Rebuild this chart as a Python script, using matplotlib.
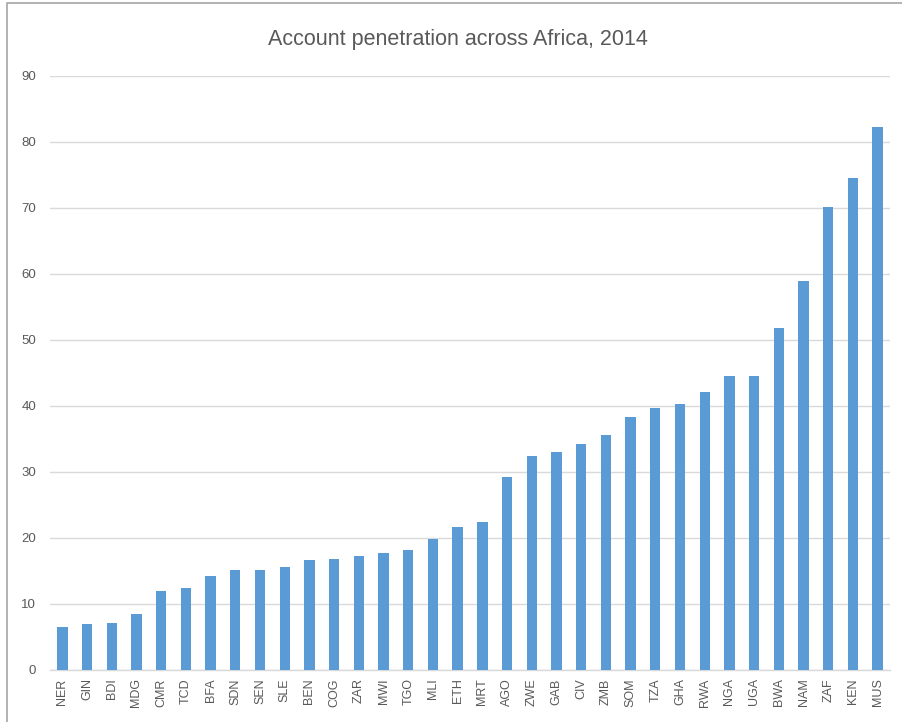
import matplotlib.pyplot as plt
from matplotlib.patches import Rectangle

countries = ["NER", "GIN", "BDI", "MDG", "CMR", "TCD", "BFA", "SDN", "SEN", "SLE",
             "BEN", "COG", "ZAR", "MWI", "TGO", "MLI", "ETH", "MRT", "AGO", "ZWE",
             "GAB", "CIV", "ZMB", "SOM", "TZA", "GHA", "RWA", "NGA", "UGA", "BWA",
             "NAM", "ZAF", "KEN", "MUS"]
account_pct = [6.5, 6.9, 7.1, 8.5, 12.0, 12.4, 14.2, 15.2, 15.2, 15.6,
               16.6, 16.8, 17.2, 17.8, 18.2, 19.9, 21.7, 22.5, 29.2, 32.4,
               33.0, 34.2, 35.6, 38.4, 39.7, 40.3, 42.1, 44.5, 44.5, 51.8,
               58.9, 70.2, 74.5, 82.2]
yticks = list(range(0, 100, 10))

text_gray = "#595959"
grid_gray = "#d9d9d9"
bar_blue = "#5b9bd5"

plt.rcParams['font.family'] = ['Liberation Sans', 'DejaVu Sans']

fig = plt.figure(figsize=(9.03, 7.22), dpi=100)
fig.patch.set_facecolor("white")
ax = fig.add_axes([50 / 903, 52 / 722, 840 / 903, 594 / 722])

x = range(len(countries))
ax.bar(x, account_pct, width=0.42, color=bar_blue, zorder=3)

ax.set_xlim(-0.5, len(countries) - 0.5)
ax.set_ylim(0, 90)
ax.set_yticks(yticks)
ax.set_yticklabels([str(t) for t in yticks], color=text_gray, fontsize=9.5)
ax.set_xticks(list(x))
ax.set_xticklabels(countries, rotation=90, color=text_gray, fontsize=9)
ax.tick_params(axis="both", length=0)
ax.tick_params(axis="y", pad=10)
ax.tick_params(axis="x", pad=6)

ax.yaxis.grid(True, color=grid_gray, linewidth=1, zorder=0)
for side in ["top", "right", "left"]:
    ax.spines[side].set_visible(False)
ax.spines["bottom"].set_color(grid_gray)
ax.spines["bottom"].set_linewidth(1)

fig.text(458 / 903, 1 - 40 / 722, "Account penetration across Africa, 2014",
         ha="center", va="center", fontsize=15.5, color=text_gray)

# chart border
fig.patches.append(Rectangle((7 / 903, -0.05), 1.1, 1 - 3 / 722 + 0.05,
                             transform=fig.transFigure, fill=False,
                             edgecolor="#a6a6a6", linewidth=1.2))

fig.savefig("out.png", dpi=100, facecolor="white")
